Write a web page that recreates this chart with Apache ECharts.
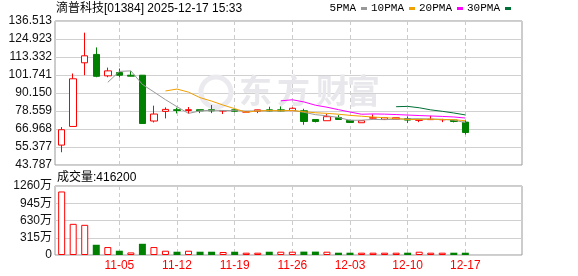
<!DOCTYPE html>
<html>
<head>
<meta charset="utf-8">
<script src="https://cdn.jsdelivr.net/npm/echarts@6/dist/echarts.min.js"></script>
<style>html,body{margin:0;padding:0;background:#fff;}#c{width:578px;height:276px;}</style>
</head>
<body>
<div id="c"></div>
<script>
// ---- data ----
const dates = ['10-29','10-30','10-31','11-03','11-04','11-05','11-06','11-07','11-10','11-11',
  '11-12','11-13','11-14','11-17','11-18','11-19','11-20','11-21','11-24','11-25',
  '11-26','11-27','11-28','12-01','12-02','12-03','12-04','12-05','12-08','12-09',
  '12-10','12-11','12-12','12-15','12-16','12-17'];
const opens  = [56.6,68.6,109.6,115.0,101.2,103.3,101.6,101.6,72.1,78.3,
  79.4,78.9,79.4,79.4,78.6,79.3,77.9,78.4,79.3,79.3,
  78.8,78.7,73.1,72.3,74.4,72.5,71.0,74.0,73.1,73.3,
  73.6,72.6,73.0,72.9,72.7,71.4];
const closes = [66.5,99.3,114.1,100.9,104.4,101.6,101.0,70.5,76.6,79.6,
  78.9,79.4,78.7,78.7,78.8,78.4,78.0,79.3,78.6,78.6,
  80.3,71.8,71.8,74.9,73.1,71.2,72.3,74.2,74.2,74.2,
  72.7,72.7,73.2,73.1,71.8,64.7];
const lows   = [52.0,68.6,101.6,100.3,100.3,100.3,100.9,70.5,71.2,73.8,
  77.0,76.8,77.2,77.2,76.6,77.8,77.8,77.2,78.3,78.3,
  78.8,69.7,71.2,72.3,73.1,70.8,71.0,73.8,73.1,73.3,
  70.8,71.4,72.9,71.4,71.2,63.4];
const highs  = [68.2,102.7,129.0,119.5,106.5,105.9,104.2,101.6,82.0,80.9,
  80.7,81.1,79.4,82.4,78.8,79.6,78.1,79.4,81.3,81.5,
  80.9,80.0,73.1,76.6,75.9,72.9,72.3,76.4,74.2,74.2,
  75.1,72.7,75.5,73.5,72.7,72.5];
const volumes = [11600000,5690000,5510000,1870000,1450000,780000,470000,2050000,1450000,780000,
  600000,780000,600000,600000,550000,600000,420000,420000,600000,600000,
  600000,620000,620000,600000,420000,420000,420000,420000,420000,420000,
  420000,600000,420000,420000,420000,416200];
const volUp = [1,1,1,0,1,0,1,0,1,1, 0,1,0,0,1,0,1,1,0,1, 1,0,0,1,0,0,1,1,1,1, 0,1,1,1,0,0];
const xTickLabels = ['11-05','11-12','11-19','11-26','12-03','12-10','12-17'];
const priceTickLabels = ['43.787','55.377','66.968','78.559','90.150','101.741','113.332','124.923','136.513'];
const volTickLabels = ['0','315万','630万','945万','1260万'];
const maPeriods = [5, 10, 20, 30];
const maNames = ['5PMA','10PMA','20PMA','30PMA'];
const titleText = '滴普科技[01384] 2025-12-17 15:33';
const volTitle = '成交量:416200';

// ---- build ----
const RED = '#ff0000', GREEN = '#008000';
const FONT = '"Liberation Sans", "Noto Sans CJK SC", sans-serif';
const maColors = ['#999999', '#f0a000', '#ff00ff', '#006f35'];
const tickIdx = xTickLabels.map(d => dates.indexOf(d));

const candleData = dates.map((d, i) => [i, opens[i], closes[i], lows[i], highs[i]]);
const volData = dates.map((d, i) => ({
  value: [i, volumes[i]],
  itemStyle: volUp[i]
    ? { color: '#ffffff', borderColor: RED, borderWidth: 1 }
    : { color: GREEN, borderColor: GREEN, borderWidth: 0 }
}));
function ma(n) {
  return closes.map((c, i) => {
    if (i < n - 1) return [i, null];
    let s = 0;
    for (let k = i - n + 1; k <= i; k++) s += closes[k];
    return [i, +(s / n).toFixed(3)];
  });
}

const xMin = -0.578, xMax = 39.914;
const gridStyle = { show: true, borderColor: '#999', borderWidth: 1, backgroundColor: 'transparent' };
const splitX = { show: true, lineStyle: { color: '#cccccc', type: [4, 3], width: 1 } };
const splitY = { show: true, lineStyle: { color: '#d0d0d0', width: 1 } };
const wmFont = 'bold 33px "Noto Sans CJK SC"';

const chart = echarts.init(document.getElementById('c'), null, { renderer: 'canvas' });
chart.setOption({
  animation: false,
  backgroundColor: '#fff',
  title: [
    { text: titleText, left: 56, top: 3, padding: 0,
      textStyle: { fontSize: 12, fontWeight: 'normal', color: '#000', fontFamily: FONT } },
    { text: volTitle, left: 57, top: 172, padding: 0,
      textStyle: { fontSize: 12, fontWeight: 'normal', color: '#000', fontFamily: FONT } }
  ],
  legend: {
    data: maNames, top: 3, right: 67, padding: 0, align: 'right',
    icon: 'rect', itemWidth: 6, itemHeight: 3, itemGap: 4, selectedMode: false,
    textStyle: { fontSize: 11, color: '#000', fontFamily: '"Liberation Mono", monospace' }
  },
  graphic: [
    { type: 'circle', shape: { cx: 216, cy: 92, r: 15 }, z: 1, silent: true,
      style: { fill: 'none', stroke: '#ebebef', lineWidth: 5 } },
    { type: 'text', left: 239, top: 74, z: 1, silent: true, style: { text: '东', font: wmFont, fill: '#e8e8ec' } },
    { type: 'text', left: 277, top: 74, z: 1, silent: true, style: { text: '方', font: wmFont, fill: '#e8e8ec' } },
    { type: 'text', left: 316, top: 74, z: 1, silent: true, style: { text: '财', font: wmFont, fill: '#e8e8ec' } },
    { type: 'text', left: 347, top: 74, z: 1, silent: true, style: { text: '富', font: wmFont, fill: '#e8e8ec' } }
  ],
  grid: [
    Object.assign({ left: 55, top: 21, width: 467, height: 144 }, gridStyle),
    Object.assign({ left: 55, top: 186, width: 467, height: 69 }, gridStyle)
  ],
  xAxis: [
    { type: 'value', gridIndex: 0, min: xMin, max: xMax,
      axisLine: { show: false }, axisTick: { show: false, customValues: tickIdx },
      axisLabel: { show: false, customValues: tickIdx }, splitLine: splitX },
    { type: 'value', gridIndex: 1, min: xMin, max: xMax,
      axisLine: { show: false }, axisTick: { show: false, customValues: tickIdx },
      axisLabel: { show: true, customValues: tickIdx, margin: 5, color: RED, fontSize: 12, fontFamily: FONT,
        formatter: v => dates[Math.round(v)] },
      splitLine: splitX }
  ],
  yAxis: [
    { type: 'value', gridIndex: 0, min: 43.787, max: 136.513, interval: 11.59075,
      axisLine: { show: false }, axisTick: { show: false },
      axisLabel: { margin: 3, color: '#111', fontSize: 12, fontFamily: FONT,
        formatter: (v, i) => priceTickLabels[i] },
      splitLine: splitY },
    { type: 'value', gridIndex: 1, min: 0, max: 12600000, interval: 3150000,
      axisLine: { show: false }, axisTick: { show: false },
      axisLabel: { margin: 3, color: '#111', fontSize: 12, fontFamily: FONT,
        formatter: (v, i) => volTickLabels[i] },
      splitLine: splitY }
  ],
  series: [
    { type: 'candlestick', name: 'K', xAxisIndex: 0, yAxisIndex: 0, barWidth: 7,
      data: candleData,
      itemStyle: { color: '#ffffff', color0: GREEN, borderColor: RED, borderColor0: GREEN,
        borderColorDoji: RED, borderWidth: 1 } },
    ...maNames.map((nm, k) => ({
      type: 'line', name: nm, xAxisIndex: 0, yAxisIndex: 0, data: ma(maPeriods[k]),
      showSymbol: false, symbol: 'none', connectNulls: false, z: 3,
      lineStyle: { color: maColors[k], width: 1 }, itemStyle: { color: maColors[k] }
    })),
    { type: 'bar', name: 'VOL', xAxisIndex: 1, yAxisIndex: 1, barWidth: 7, data: volData }
  ]
});
</script>
</body>
</html>
